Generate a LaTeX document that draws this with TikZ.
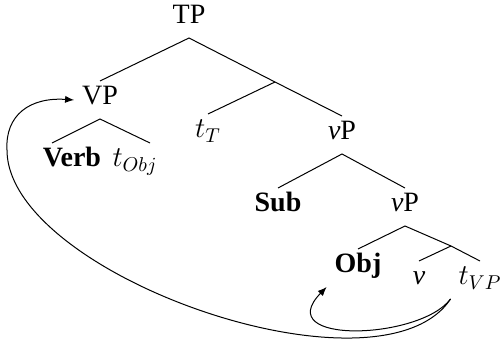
\documentclass[tikz,border=0pt]{standalone}
\usepackage{fontspec}
\setmainfont{Liberation Serif}
\usetikzlibrary{calc,arrows.meta}
\tikzset{
	lbl/.style={inner sep=0pt, outer sep=4pt, text height=8pt, text depth=3pt, anchor=base, font=\fontsize{14}{17}\selectfont},
	branch/.style={line width=0.5pt},
	move/.style={-{Latex[length=4.5pt,width=3.6pt]}, line width=0.5pt}
}

\begin{document}
\begin{tikzpicture}[x=0.5pt, y=-0.5pt]
		\useasboundingbox (0,0) rectangle (503,341);

		\node[lbl] (tp) at (189,24) {TP};
		\node[lbl] (vp) at (100,105) {VP};
		\node[lbl] (tt) at (208,138) {$t_T$};
		\node[lbl] (vpa) at (342,140) {\textit{v}P};
		\node[lbl] (verb) at (72,167) {\textbf{Verb}};
		\node[lbl] (tobj) at (135,167) {$t_{Obj}$};
		\node[lbl] (sub) at (278,212) {\textbf{Sub}};
		\node[lbl] (vpb) at (405,212) {\textit{v}P};
		\node[lbl] (obj) at (358,273) {\textbf{Obj}};
		\node[lbl] (v) at (419,285) {\textit{v}};
		\node[lbl] (tvp) at (480,285) {$t_{VP}$};

		\coordinate (tbar) at (275,82);
		\coordinate (vbar) at (451,246);
		\coordinate (loop) at (7,150);

		\draw[branch] (vp.north) -- (tp.south) -- (tbar) -- (vpa.north);
		\draw[branch] (tbar) -- (tt.north);
		\draw[branch] ($(verb.north)+(-20,0)$) -- (vp.south) -- ($(tobj.north)+(15,0)$);
		\draw[branch] (sub.north) -- (vpa.south) -- (vpb.north);
		\draw[branch] (obj.north) -- (vpb.south) -- (vbar) -- (tvp.north);
		\draw[branch] (vbar) -- (v.north);

		\draw[move] (tvp.south west) .. controls (380,405) and (7,275) .. (loop) .. controls (5,115) and (30,97) .. (vp.west);
		\draw[move] (tvp.south west) .. controls (420,340) and (270,345) .. (obj.south west);
\end{tikzpicture}
\end{document}
